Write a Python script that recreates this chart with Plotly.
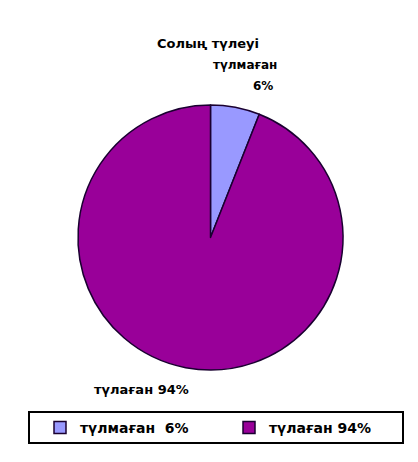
import plotly.graph_objects as go

labels = ["түлмаған  6%", "түлаған 94%"]
values = [6, 94]
colors = ["#9999FF", "#990099"]
title_text = "Солың түлеуі"
slice_label = "түлмаған"
slice_pct = "6%"
big_label = "түлаған 94%"

# page body has an 8px margin; figure is sized to fit in the window
W, H, OFF = 410, 454, 8
def px(x):
    return (x - OFF) / W
def py(y):
    return 1 - (y - OFF) / H

def f(size):
    return dict(family="DejaVu Sans, Verdana, sans-serif", size=size, color="black", weight="bold")

fig = go.Figure(go.Pie(
    labels=labels, values=values, sort=False, direction="clockwise", rotation=0,
    marker=dict(colors=colors, line=dict(color="#1a0030", width=1.5)),
    textinfo="none", hoverinfo="label+percent",
    domain=dict(x=[px(78), px(343)], y=[py(370), py(105)]),
))

fig.add_annotation(x=px(155), y=py(43), xref="paper", yref="paper", text=title_text,
                   showarrow=False, xanchor="left", yanchor="middle", font=f(13))
fig.add_annotation(x=px(279), y=py(65), xref="paper", yref="paper", text=slice_label,
                   showarrow=False, xanchor="right", yanchor="middle", font=f(12))
fig.add_annotation(x=px(275), y=py(86), xref="paper", yref="paper", text=slice_pct,
                   showarrow=False, xanchor="right", yanchor="middle", font=f(12))
fig.add_annotation(x=px(92), y=py(389), xref="paper", yref="paper", text=big_label,
                   showarrow=False, xanchor="left", yanchor="middle", font=f(13))

fig.add_shape(type="rect", xref="paper", yref="paper", x0=px(29), x1=px(403), y0=py(443), y1=py(412),
              line=dict(color="black", width=2), fillcolor="rgba(0,0,0,0)")

fig.update_layout(
    width=W, height=H, margin=dict(l=0, r=0, t=0, b=0),
    paper_bgcolor="white", plot_bgcolor="white",
    showlegend=True,
    legend=dict(orientation="h", x=px(40), y=py(428), xanchor="left", yanchor="middle",
                entrywidth=144, entrywidthmode="pixels",
                font=f(14), itemclick=False, bgcolor="rgba(0,0,0,0)"),
    font=f(12),
)
fig.write_html("out.html")
